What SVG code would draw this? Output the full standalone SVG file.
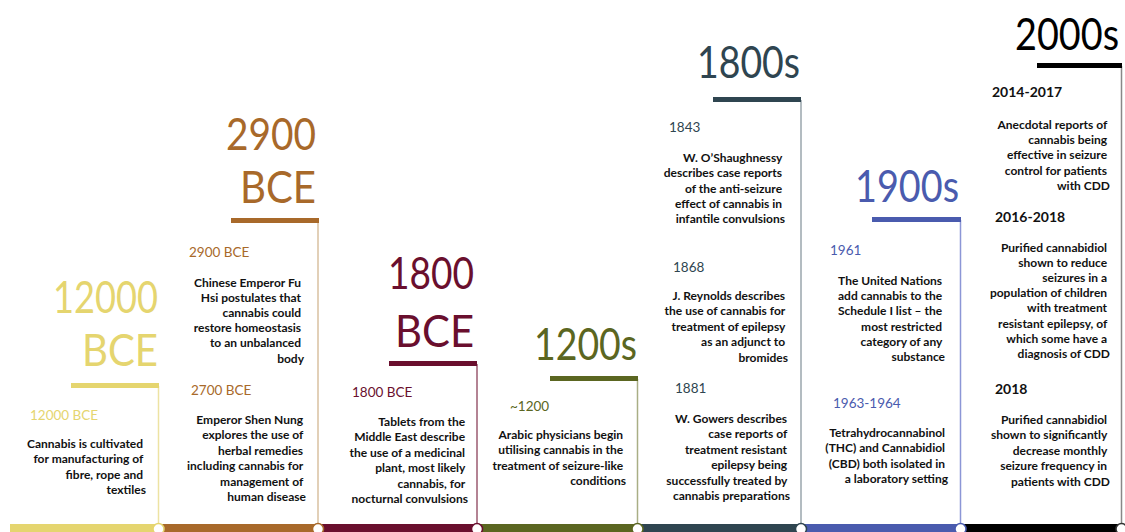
<svg xmlns="http://www.w3.org/2000/svg" width="1125" height="532" viewBox="0 0 1125 532">
  <style>
    .era { font-family: Lato, "Open Sans", sans-serif; font-size: 44px; font-weight: 400; text-anchor: end; }
    .yr { font-family: Lato, "Open Sans", sans-serif; font-size: 13.5px; font-weight: 400; }
    .yr2k { font-family: Lato, "Open Sans", sans-serif; font-size: 14px; font-weight: 700; fill: #111111; }
    .desc { font-family: Lato, "Open Sans", sans-serif; font-size: 12px; font-weight: 700; fill: #111111; text-anchor: end; }
    .stem { stroke-width: 1.5; fill: none; }
    .dot { fill: #ffffff; stroke-width: 1.5; }
  </style>

  <!-- timeline rail, knots and vertical stems -->
  <g id="connectors">
    <rect x="10" y="524" width="148" height="8" fill="#E5D56F"/>
    <rect x="158" y="524" width="160" height="8" fill="#A8692A"/>
    <rect x="318" y="524" width="159" height="8" fill="#6A0F2E"/>
    <rect x="477" y="524" width="161" height="8" fill="#5B6621"/>
    <rect x="638" y="524" width="163" height="8" fill="#2F4550"/>
    <rect x="801" y="524" width="160" height="8" fill="#4A5BAE"/>
    <rect x="961" y="524" width="161" height="8" fill="#000000"/>

    <line class="stem" x1="158.5" y1="386" x2="158.5" y2="523" stroke="#EDE3A3"/>
    <line class="stem" x1="318" y1="221" x2="318" y2="523" stroke="#D9C0A0"/>
    <line class="stem" x1="477" y1="364" x2="477" y2="523" stroke="#9B5A70"/>
    <line class="stem" x1="637.5" y1="379" x2="637.5" y2="523" stroke="#A9AE85"/>
    <line class="stem" x1="801" y1="100" x2="801" y2="523" stroke="#9AA6AD"/>
    <line class="stem" x1="960.5" y1="220" x2="960.5" y2="523" stroke="#8C96D6"/>
    <line class="stem" x1="1121.5" y1="66" x2="1121.5" y2="523" stroke="#888888"/>

    <circle class="dot" cx="158.5" cy="529" r="5.5" stroke="#E5D56F"/>
    <circle class="dot" cx="318" cy="529" r="5.5" stroke="#A8692A"/>
    <circle class="dot" cx="477" cy="529" r="5.5" stroke="#6A0F2E"/>
    <circle class="dot" cx="637.5" cy="529" r="5.5" stroke="#5B6621"/>
    <circle class="dot" cx="801" cy="529" r="5.5" stroke="#2F4550"/>
    <circle class="dot" cx="960.5" cy="529" r="5.5" stroke="#4A5BAE"/>
    <circle class="dot" cx="1121.5" cy="529" r="5.5" stroke="#333333"/>
  </g>

  <!-- 12000 BCE -->
  <g id="era-12000bce">
    <text class="era" x="158" y="313" fill="#E5D56F" textLength="105" lengthAdjust="spacingAndGlyphs">12000</text>
    <text class="era" x="158" y="366" fill="#E5D56F" textLength="76" lengthAdjust="spacingAndGlyphs">BCE</text>
    <rect x="71" y="383" width="88" height="5" fill="#E5D56F"/>
    <text class="yr" x="30" y="420" fill="#E5D56F">12000 BCE</text>
    <text class="desc" y="448">
      <tspan x="146">Cannabis is cultivated</tspan>
      <tspan x="146" dy="15.4">for manufacturing of</tspan>
      <tspan x="146" dy="15.4">fibre, rope and</tspan>
      <tspan x="146" dy="15.4">textiles</tspan>
    </text>
  </g>

  <!-- 2900 BCE -->
  <g id="era-2900bce">
    <text class="era" x="316" y="150" fill="#A8692A" textLength="90" lengthAdjust="spacingAndGlyphs">2900</text>
    <text class="era" x="316" y="203" fill="#A8692A" textLength="76" lengthAdjust="spacingAndGlyphs">BCE</text>
    <rect x="231" y="218" width="88" height="5" fill="#A8692A"/>
    <text class="yr" x="189" y="257" fill="#A8692A">2900 BCE</text>
    <text class="desc" y="287">
      <tspan x="304">Chinese Emperor Fu</tspan>
      <tspan x="304" dy="15.1">Hsi postulates that</tspan>
      <tspan x="304" dy="15.1">cannabis could</tspan>
      <tspan x="304" dy="15.1">restore homeostasis</tspan>
      <tspan x="304" dy="15.1">to an unbalanced</tspan>
      <tspan x="304" dy="15.1">body</tspan>
    </text>
    <text class="yr" x="191" y="395" fill="#A8692A">2700 BCE</text>
    <text class="desc" y="424">
      <tspan x="306">Emperor Shen Nung</tspan>
      <tspan x="306" dy="15.4">explores the use of</tspan>
      <tspan x="306" dy="15.4">herbal remedies</tspan>
      <tspan x="306" dy="15.4">including cannabis for</tspan>
      <tspan x="306" dy="15.4">management of</tspan>
      <tspan x="306" dy="15.4">human disease</tspan>
    </text>
  </g>

  <!-- 1800 BCE -->
  <g id="era-1800bce">
    <text class="era" x="474" y="289" fill="#6A0F2E" textLength="86" lengthAdjust="spacingAndGlyphs">1800</text>
    <text class="era" x="474" y="347" fill="#6A0F2E" textLength="79" lengthAdjust="spacingAndGlyphs">BCE</text>
    <rect x="389" y="361" width="88" height="5" fill="#6A0F2E"/>
    <text class="yr" x="352" y="397" fill="#6A0F2E">1800 BCE</text>
    <text class="desc" y="426">
      <tspan x="468">Tablets from the</tspan>
      <tspan x="468" dy="15.4">Middle East describe</tspan>
      <tspan x="468" dy="15.4">the use of a medicinal</tspan>
      <tspan x="468" dy="15.4">plant, most likely</tspan>
      <tspan x="468" dy="15.4">cannabis, for</tspan>
      <tspan x="468" dy="15.4">nocturnal convulsions</tspan>
    </text>
  </g>

  <!-- 1200s -->
  <g id="era-1200s">
    <text class="era" x="637" y="360" fill="#5B6621" textLength="103" lengthAdjust="spacingAndGlyphs">1200s</text>
    <rect x="550" y="376" width="88" height="5" fill="#5B6621"/>
    <text class="yr" x="510" y="411" fill="#5B6621">~1200</text>
    <text class="desc" y="439">
      <tspan x="626">Arabic physicians begin</tspan>
      <tspan x="626" dy="15.4">utilising cannabis in the</tspan>
      <tspan x="626" dy="15.4">treatment of seizure-like</tspan>
      <tspan x="626" dy="15.4">conditions</tspan>
    </text>
  </g>

  <!-- 1800s -->
  <g id="era-1800s">
    <text class="era" x="800" y="78" fill="#2F4550" textLength="103" lengthAdjust="spacingAndGlyphs">1800s</text>
    <rect x="713" y="97" width="88" height="5" fill="#2F4550"/>
    <text class="yr" x="669" y="132" fill="#2F4550">1843</text>
    <text class="desc" y="162">
      <tspan x="785">W. O’Shaughnessy</tspan>
      <tspan x="785" dy="15.3">describes case reports</tspan>
      <tspan x="785" dy="15.3">of the anti-seizure</tspan>
      <tspan x="785" dy="15.3">effect of cannabis in</tspan>
      <tspan x="785" dy="15.3">infantile convulsions</tspan>
    </text>
    <text class="yr" x="673" y="272" fill="#2F4550">1868</text>
    <text class="desc" y="300">
      <tspan x="788">J. Reynolds describes</tspan>
      <tspan x="788" dy="15.4">the use of cannabis for</tspan>
      <tspan x="788" dy="15.4">treatment of epilepsy</tspan>
      <tspan x="788" dy="15.4">as an adjunct to</tspan>
      <tspan x="788" dy="15.4">bromides</tspan>
    </text>
    <text class="yr" x="675" y="393" fill="#2F4550">1881</text>
    <text class="desc" y="423">
      <tspan x="790">W. Gowers describes</tspan>
      <tspan x="790" dy="15.4">case reports of</tspan>
      <tspan x="790" dy="15.4">treatment resistant</tspan>
      <tspan x="790" dy="15.4">epilepsy being</tspan>
      <tspan x="790" dy="15.4">successfully treated by</tspan>
      <tspan x="790" dy="15.4">cannabis preparations</tspan>
    </text>
  </g>

  <!-- 1900s -->
  <g id="era-1900s">
    <text class="era" x="959" y="202" fill="#4A5BAE" textLength="104" lengthAdjust="spacingAndGlyphs">1900s</text>
    <rect x="872" y="217" width="89" height="5" fill="#4A5BAE"/>
    <text class="yr" x="830" y="255" fill="#4A5BAE">1961</text>
    <text class="desc" y="285">
      <tspan x="945">The United Nations</tspan>
      <tspan x="945" dy="15.2">add cannabis to the</tspan>
      <tspan x="945" dy="15.2">Schedule I list – the</tspan>
      <tspan x="945" dy="15.2">most restricted</tspan>
      <tspan x="945" dy="15.2">category of any</tspan>
      <tspan x="945" dy="15.2">substance</tspan>
    </text>
    <text class="yr" x="833" y="408" fill="#4A5BAE">1963-1964</text>
    <text class="desc" y="437">
      <tspan x="948">Tetrahydrocannabinol</tspan>
      <tspan x="948" dy="15.3">(THC) and Cannabidiol</tspan>
      <tspan x="948" dy="15.3">(CBD) both isolated in</tspan>
      <tspan x="948" dy="15.3">a laboratory setting</tspan>
    </text>
  </g>

  <!-- 2000s -->
  <g id="era-2000s">
    <text class="era" x="1119" y="50" fill="#000000" textLength="104" lengthAdjust="spacingAndGlyphs">2000s</text>
    <rect x="1037" y="63" width="85" height="5" fill="#000000"/>
    <text class="yr2k" x="992" y="97">2014-2017</text>
    <text class="desc" y="129">
      <tspan x="1110">Anecdotal reports of</tspan>
      <tspan x="1110" dy="15.2">cannabis being</tspan>
      <tspan x="1110" dy="15.2">effective in seizure</tspan>
      <tspan x="1110" dy="15.2">control for patients</tspan>
      <tspan x="1110" dy="15.2">with CDD</tspan>
    </text>
    <text class="yr2k" x="995" y="222">2016-2018</text>
    <text class="desc" y="252">
      <tspan x="1110">Purified cannabidiol</tspan>
      <tspan x="1110" dy="15.1">shown to reduce</tspan>
      <tspan x="1110" dy="15.1">seizures in a</tspan>
      <tspan x="1110" dy="15.1">population of children</tspan>
      <tspan x="1110" dy="15.1">with treatment</tspan>
      <tspan x="1110" dy="15.1">resistant epilepsy, of</tspan>
      <tspan x="1110" dy="15.1">which some have a</tspan>
      <tspan x="1110" dy="15.1">diagnosis of CDD</tspan>
    </text>
    <text class="yr2k" x="995" y="394">2018</text>
    <text class="desc" y="424">
      <tspan x="1110">Purified cannabidiol</tspan>
      <tspan x="1110" dy="15.4">shown to significantly</tspan>
      <tspan x="1110" dy="15.4">decrease monthly</tspan>
      <tspan x="1110" dy="15.4">seizure frequency in</tspan>
      <tspan x="1110" dy="15.4">patients with CDD</tspan>
    </text>
  </g>
</svg>
